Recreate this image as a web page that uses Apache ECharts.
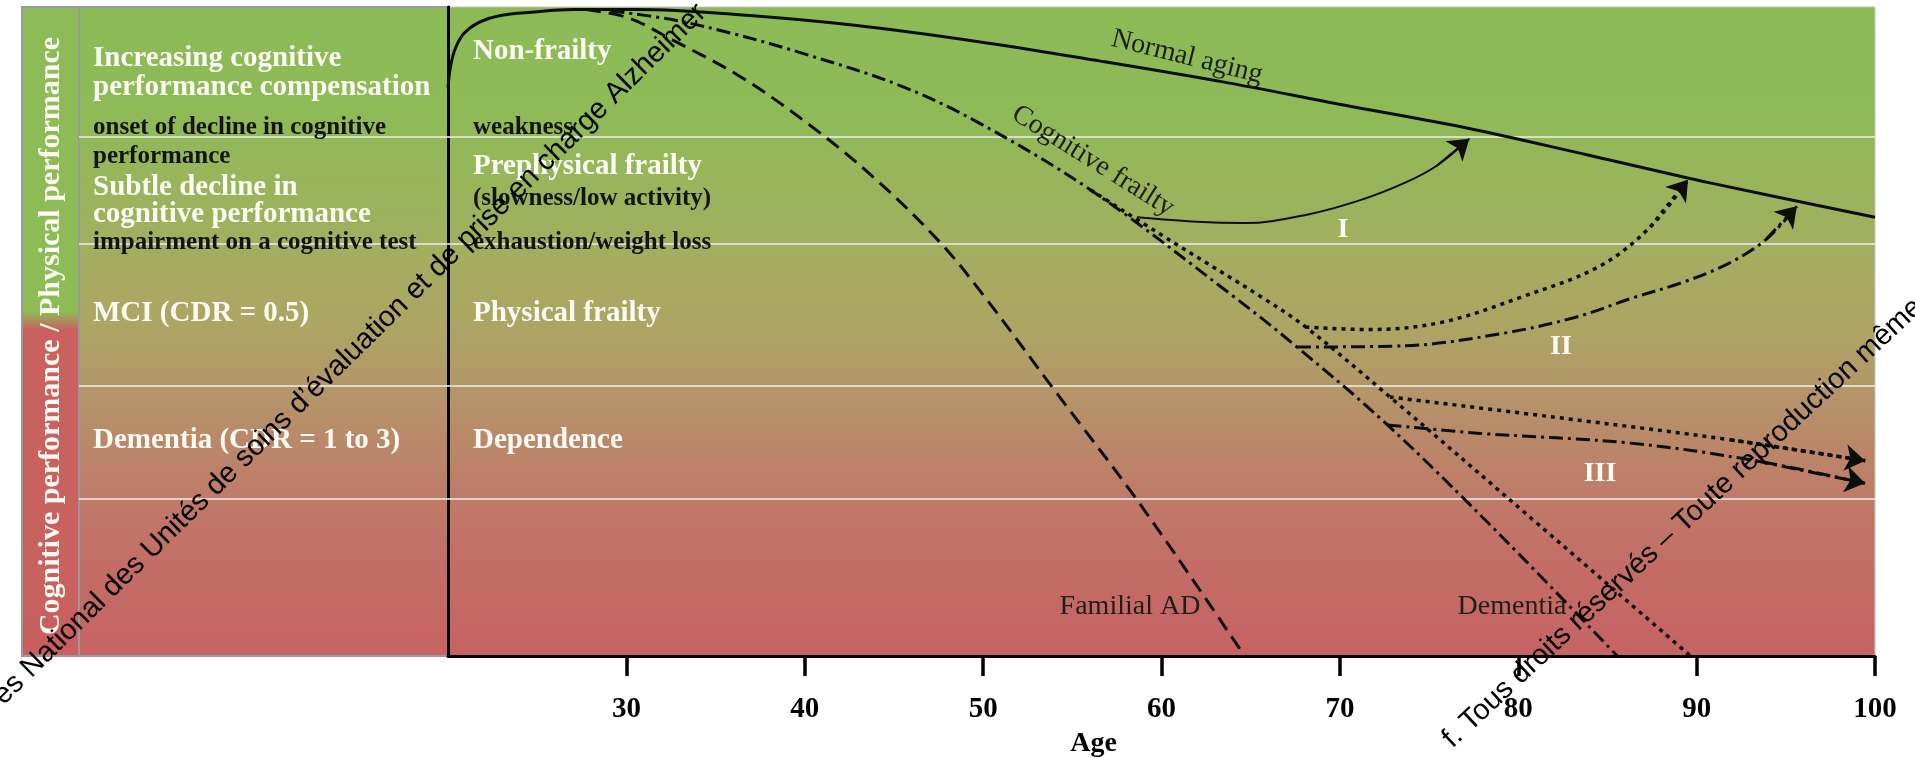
<!DOCTYPE html>
<html><head><meta charset="utf-8">
<script src="https://cdn.jsdelivr.net/npm/echarts@6/dist/echarts.min.js"></script>
<style>html,body{margin:0;padding:0;background:#fff;}#c{width:1915px;height:758px;}</style>
</head><body><div id="c"></div>
<script>
// ---------- data (age on x, relative performance 0-100 on y) ----------
const xTicks = [30, 40, 50, 60, 70, 80, 90, 100];
const bandLevels = [80.0, 63.5, 41.6, 24.3];
const normalAging = [[20,87.6],[20.14,90.8],[20.41,93.6],[20.89,95.9],[21.71,97.6],[22.95,98.7],[24.66,99.2],[27.05,99.6],[30.48,99.6],[35.96,98.9],[42.81,97.2],[49.66,94.7],[56.51,91.7],[63.36,88.5],[70.21,84.9],[77.05,81.4],[83.9,77.2],[90.75,72.9],[100,67.6]];
const familialAD = [[27.74,99.6],[30.14,98.3],[32.6,94.9],[36.37,89.3],[40.14,82.1],[43.84,73.8],[47.6,63.7],[50.07,55.4],[54.18,40.3],[58.22,25.6],[61.64,12.2],[64.66,0]];
const cognitiveFrailty = [[29.11,99.4],[32.47,98.1],[35.96,95.9],[40.07,92.7],[45.34,87.9],[49.66,82.3],[56.03,71.8],[64.04,55.4],[67.6,47.6],[72.67,35.6],[79.11,18.3],[85.55,0]];
const dementiaPath = [[56.03,71.8],[60.62,63.8],[65.55,55.4],[68.08,50.7],[72.81,39.9],[81.16,20.2],[89.66,0]];
const arrowI = [[58.63,67.6],[61.99,66.9],[64.66,66.7],[68.15,68.0],[71.1,70.2],[73.63,72.9],[75.41,75.5],[77.26,79.7]];
const arrowIIDotted = [[68.08,50.7],[71.58,50.3],[75.68,51.4],[80.27,55.4],[84.59,60.1],[87.4,66.1],[89.52,73.4]];
const arrowIIDashDot = [[67.6,47.6],[73.63,47.8],[79.11,49.7],[83.22,52.2],[86.44,55.2],[89.25,57.6],[91.8,60.5],[93.9,64.2],[95.62,69.3]];
const arrowIIIDotted = [[72.81,39.9],[83.49,36.3],[91.92,33.3],[99.45,30.1]];
const arrowIIIDashDot = [[72.67,35.6],[77.88,34.3],[86.3,32.8],[93.29,30.1],[99.45,26.6]];

const cognitiveLabels = ['Increasing cognitive', 'performance compensation', 'onset of decline in cognitive', 'performance', 'Subtle decline in', 'cognitive performance', 'impairment on a cognitive test', 'MCI (CDR = 0.5)', 'Dementia (CDR = 1 to 3)'];
const physicalLabels = ['Non-frailty', 'weakness', 'Prephysical frailty', '(slowness/low activity)', 'exhaustion/weight loss', 'Physical frailty', 'Dependence'];
const curveLabels = ['Normal aging', 'Cognitive frailty', 'Familial AD', 'Dementia'];
const pathLabels = ['I', 'II', 'III'];
const sideTitle = 'Cognitive performance / Physical performance';
const watermark1 = 'es National des Unités de soins d’évaluation et de prise en charge Alzheimer';
const watermark2 = 'f. Tous droits réservés – Toute reproduction même partielle';

// ---------- rendering ----------
const SERIF = '"Liberation Serif", "Times New Roman", serif';
const SANS = '"Liberation Sans", Arial, sans-serif';
function grad() {
  return new echarts.graphic.LinearGradient(0, 0, 0, 1, [
    {offset: 0, color: '#8CBB56'}, {offset: 0.18, color: '#8FBA57'},
    {offset: 0.36, color: '#A2AF5F'}, {offset: 0.5, color: '#AEA464'},
    {offset: 0.6, color: '#B59469'}, {offset: 0.72, color: '#BD8069'},
    {offset: 0.85, color: '#C36E66'}, {offset: 1, color: '#C66363'}]);
}
function txt(t, x, y, o) {
  o = o || {};
  const al = o.align || 'left';
  return {type: 'text', x: x, y: y, rotation: (o.rot || 0) * Math.PI / 180, z: 100, silent: true,
    style: {text: t, fill: o.color || '#fbfbf4',
      font: (o.weight || 'bold') + ' ' + (o.size || 29) + 'px ' + (o.family || SERIF),
      align: al, textAlign: al, verticalAlign: 'middle', textVerticalAlign: 'middle'}};
}
const W = '#fbfbf4', B = '#141414', D = '#1e1e1e';
const leftY = [59, 88, 128, 157, 188, 215, 243, 314, 441];
const leftStyle = [W, W, B, B, W, W, B, W, W];
const midY = [52, 128, 167, 199, 243, 314, 441];
const midStyle = [W, B, W, B, B, W, W];
const graphics = [];
graphics.push({type: 'rect', z: 1, silent: true, shape: {x: 22, y: 7, width: 57, height: 649},
  style: {fill: new echarts.graphic.LinearGradient(0, 0, 0, 1, [
    {offset: 0, color: '#8DBB56'}, {offset: 0.47, color: '#8DBB56'},
    {offset: 0.497, color: '#C9625F'}, {offset: 1, color: '#C9605F'}]), stroke: '#9a9a9a', lineWidth: 2}});
graphics.push(txt(sideTitle, 51, 336, {rot: 90, align: 'center', size: 30}));
cognitiveLabels.forEach((t, i) => graphics.push(txt(t, 93, leftY[i], {color: leftStyle[i], size: leftStyle[i] === W ? 29 : 25})));
physicalLabels.forEach((t, i) => graphics.push(txt(t, 473, midY[i], {color: midStyle[i], size: midStyle[i] === W ? 29 : 25})));
graphics.push(txt(curveLabels[0], 1187, 57, {rot: -14, align: 'center', weight: 'normal', color: D, size: 28}));
graphics.push(txt(curveLabels[1], 1093, 161, {rot: -32, align: 'center', weight: 'normal', color: D, size: 28}));
graphics.push(txt(curveLabels[2], 1130, 607, {align: 'center', weight: 'normal', color: D, size: 28}));
graphics.push(txt(curveLabels[3], 1512, 607, {align: 'center', weight: 'normal', color: D, size: 28}));
graphics.push(txt(pathLabels[0], 1343, 230, {align: 'center', size: 28}));
graphics.push(txt(pathLabels[1], 1561, 347, {align: 'center', size: 28}));
graphics.push(txt(pathLabels[2], 1600, 474, {align: 'center', size: 28}));
graphics.push(Object.assign(txt(watermark1, -2, 700, {rot: 44.5, weight: 'normal', color: '#000', size: 29, family: SANS}), {z: 200}));
graphics.push(Object.assign(txt(watermark2, 1447, 743, {rot: 43, weight: 'normal', color: '#000', size: 29, family: SANS}), {z: 200}));

function curve(data, type, width, smooth) {
  return {type: 'line', data: data, smooth: smooth === undefined ? 0.35 : smooth, symbol: 'none', z: 5, silent: true,
    lineStyle: {color: '#0d0d0d', width: width, type: type}};
}
function head(data, type, width) {
  const n = data.length;
  return {type: 'lines', coordinateSystem: 'cartesian2d', z: 6, silent: true,
    symbol: ['none', 'arrow'], symbolSize: 20,
    lineStyle: {color: '#0d0d0d', width: width, type: type, opacity: 1},
    data: [{coords: [data[n - 2], data[n - 1]]}]};
}
const DASH = [15, 8], DASHDOT = [14, 5, 3, 5], DOT = [4, 5];
const bandLine = {silent: true, symbol: 'none', label: {show: false},
  lineStyle: {color: 'rgba(232,232,232,0.8)', width: 2, type: 'solid'},
  data: bandLevels.map(v => ({yAxis: v}))};

const option = {
  animation: false,
  backgroundColor: '#fff',
  grid: [
    {left: 448, right: 40, top: 7, bottom: 102, show: true, outerBoundsMode: 'none', containLabel: false,
     backgroundColor: grad(), borderColor: '#c4c4c4', borderWidth: 1},
    {left: 79, width: 369, top: 7, bottom: 102, show: true, outerBoundsMode: 'none', containLabel: false,
     backgroundColor: grad(), borderColor: '#9a9a9a', borderWidth: 2}
  ],
  xAxis: [
    {type: 'value', gridIndex: 0, min: 20, max: 100, interval: 10,
     axisLine: {lineStyle: {color: '#000', width: 3}},
     axisTick: {show: true, length: 20, customValues: xTicks, lineStyle: {color: '#000', width: 3.5}},
     axisLabel: {customValues: xTicks, margin: 39, color: '#000', fontFamily: SERIF, fontWeight: 'bold', fontSize: 29},
     splitLine: {show: false},
     name: 'Age', nameLocation: 'middle', nameGap: 74,
     nameTextStyle: {color: '#000', fontFamily: SERIF, fontWeight: 'bold', fontSize: 28, padding: [0, 136, 0, 0]}},
    {type: 'value', gridIndex: 1, min: 0, max: 1, show: false}
  ],
  yAxis: [
    {type: 'value', gridIndex: 0, min: 0, max: 100,
     axisLine: {show: true, lineStyle: {color: '#000', width: 3}},
     axisTick: {show: false}, axisLabel: {show: false}, splitLine: {show: false}},
    {type: 'value', gridIndex: 1, min: 0, max: 100, show: false}
  ],
  series: [
    {type: 'line', xAxisIndex: 1, yAxisIndex: 1, data: [[0, 0], [1, 0]], symbol: 'none', silent: true,
     lineStyle: {width: 0, opacity: 0}, markLine: bandLine, z: 1},
    {type: 'line', data: [[20, 0], [100, 0]], symbol: 'none', silent: true,
     lineStyle: {width: 0, opacity: 0}, markLine: bandLine, z: 1},
    curve(normalAging, 'solid', 3),
    curve(familialAD, DASH, 3),
    curve(cognitiveFrailty, DASHDOT, 3),
    curve(dementiaPath, DOT, 3.5),
    curve(arrowI, 'solid', 2),
    curve(arrowIIDotted, DOT, 3.5),
    curve(arrowIIDashDot, DASHDOT, 3),
    curve(arrowIIIDotted, DOT, 3.5),
    curve(arrowIIIDashDot, DASHDOT, 3),
    head(arrowI, 'solid', 2),
    head(arrowIIDotted, DOT, 3.5),
    head(arrowIIDashDot, DASHDOT, 3),
    head(arrowIIIDotted, DOT, 3.5),
    head(arrowIIIDashDot, DASHDOT, 3)
  ],
  graphic: {elements: graphics}
};
const chart = echarts.init(document.getElementById('c'));
chart.setOption(option);
</script></body></html>
